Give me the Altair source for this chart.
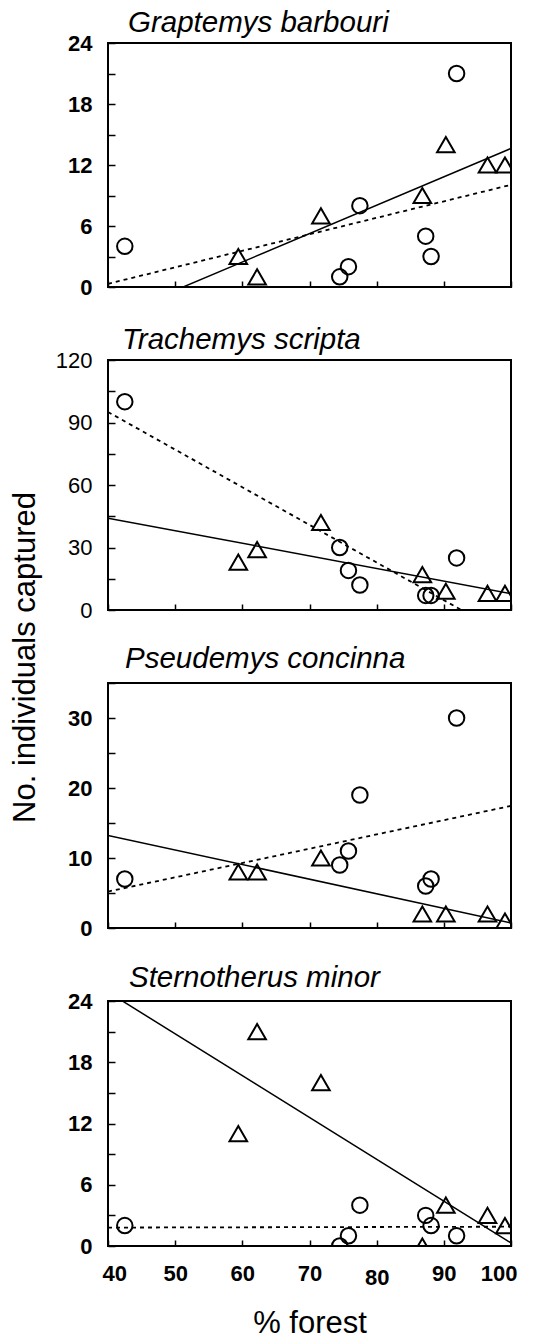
import altair as alt
import pandas as pd

# Percent forest cover at the two groups of sampling sites
circle_forest = [42.5, 74.5, 75.8, 77.5, 87.3, 88.1, 91.9]
triangle_forest = [59.4, 62.2, 71.7, 86.8, 90.3, 96.5, 99.1]

# Individuals captured per site (same site order as the forest lists)
graptemys_circles = [4, 1, 2, 8, 5, 3, 21]
graptemys_triangles = [3, 1, 7, 9, 14, 12, 12]
trachemys_circles = [100, 30, 19, 12, 7, 7, 25]
trachemys_triangles = [23, 29, 42, 17, 9, 8, 8]
pseudemys_circles = [7, 9, 11, 19, 6, 7, 30]
pseudemys_triangles = [8, 8, 10, 2, 2, 2, 1]
sternotherus_circles = [2, 0, 1, 4, 3, 2, 1]
sternotherus_triangles = [11, 21, 16, 0, 4, 3, 2]

x_ticks = [40, 50, 60, 70, 80, 90, 100]
FONT = "Liberation Sans"


def panel(name, circles, triangles, y_max, tick_step, label_step, height,
          label_weight, title_dx, title_offset, bottom=False, y_title=None):
    data = pd.DataFrame({
        "forest": circle_forest + triangle_forest,
        "count": circles + triangles,
        "group": ["circle"] * len(circles) + ["triangle"] * len(triangles),
    })

    if bottom:
        x_axis = alt.Axis(
            values=x_ticks, tickSize=6, offset=-6, domain=False, grid=False,
            labels=True, labelFontSize=22, labelFontWeight="bold",
            labelFlush=True, labelFlushOffset=6, labelOverlap=False,
            labelPadding={"condition": {"test": "datum.value == 80", "value": 21}, "value": 17},
            title="% forest", titleFontSize=31, titleFontWeight="normal",
            titleY=92, titleBaseline="alphabetic",
        )
    else:
        x_axis = alt.Axis(values=x_ticks, tickSize=6, offset=-6, domain=False,
                          grid=False, labels=False, title=None)

    y_kwargs = dict(
        values=list(range(0, y_max + 1, tick_step)),
        labelExpr=f"datum.value % {label_step} === 0 ? datum.label : ''",
        tickSize=7, offset=-7, domain=False, grid=False,
        labelFontSize=22, labelFontWeight=label_weight, labelPadding=16,
        labelOverlap=False,
    )
    if y_title:
        # shared axis title, centred between the second and third panels
        y_kwargs.update(title=y_title, titleFontSize=31, titleFontWeight="normal",
                        titleX=-90, titleY=297, titleAngle=270,
                        titleAlign="center", titleBaseline="middle")
    else:
        y_kwargs.update(title=None)
    y_axis = alt.Axis(**y_kwargs)

    x = alt.X("forest:Q", scale=alt.Scale(domain=[40, 100], nice=False, zero=False), axis=x_axis)
    y = alt.Y("count:Q", scale=alt.Scale(domain=[0, y_max], nice=False), axis=y_axis)

    base = alt.Chart(data)
    circ = base.transform_filter(alt.datum.group == "circle")
    tri = base.transform_filter(alt.datum.group == "triangle")

    circ_fit = circ.transform_regression(
        "forest", "count", method="linear", extent=[40, 100]
    ).mark_line(color="black", strokeWidth=1.8, strokeDash=[4, 4], clip=True).encode(x=x, y=y)
    tri_fit = tri.transform_regression(
        "forest", "count", method="linear", extent=[40, 100]
    ).mark_line(color="black", strokeWidth=1.5, clip=True).encode(x=x, y=y)

    circ_pts = circ.mark_point(shape="circle", size=240, filled=False, strokeWidth=2,
                               color="black", opacity=1, clip=True).encode(x=x, y=y)
    tri_pts = tri.mark_point(shape="triangle-up", size=310, filled=False, strokeWidth=2,
                             color="black", opacity=1, clip=True).encode(x=x, y=y)

    title = alt.TitleParams(
        name, anchor="start", frame="group", dx=title_dx, offset=title_offset,
        fontSize=29.5, font=FONT, fontStyle="italic", fontWeight="normal",
        baseline="alphabetic", color="black",
    )
    return alt.layer(circ_fit, tri_fit, circ_pts, tri_pts).properties(
        width=403, height=height, title=title
    )


p1 = panel("Graptemys barbouri", graptemys_circles, graptemys_triangles,
           24, 3, 6, 244, "bold", 20, -29)
p2 = panel("Trachemys scripta", trachemys_circles, trachemys_triangles,
           120, 15, 30, 250, "normal", 14, -29, y_title="No. individuals captured")
p3 = panel("Pseudemys concinna", pseudemys_circles, pseudemys_triangles,
           35, 5, 10, 245, "bold", 17, -25)
p4 = panel("Sternotherus minor", sternotherus_circles, sternotherus_triangles,
           24, 3, 6, 245, "bold", 21, -26, bottom=True)

chart = (
    alt.vconcat(p1, p2, p3, p4, spacing=73, bounds="flush")
    .properties(padding={"left": 8, "top": 6, "right": 5, "bottom": 2})
    .configure(font=FONT)
    .configure_view(stroke="black", strokeWidth=2)
    .configure_axis(tickColor="black", tickWidth=1.5, labelColor="black",
                    titleColor="black", labelFont=FONT, titleFont=FONT)
    .configure_title(color="black")
)

chart.save("out.html", embed_options={"renderer": "svg", "actions": False})
